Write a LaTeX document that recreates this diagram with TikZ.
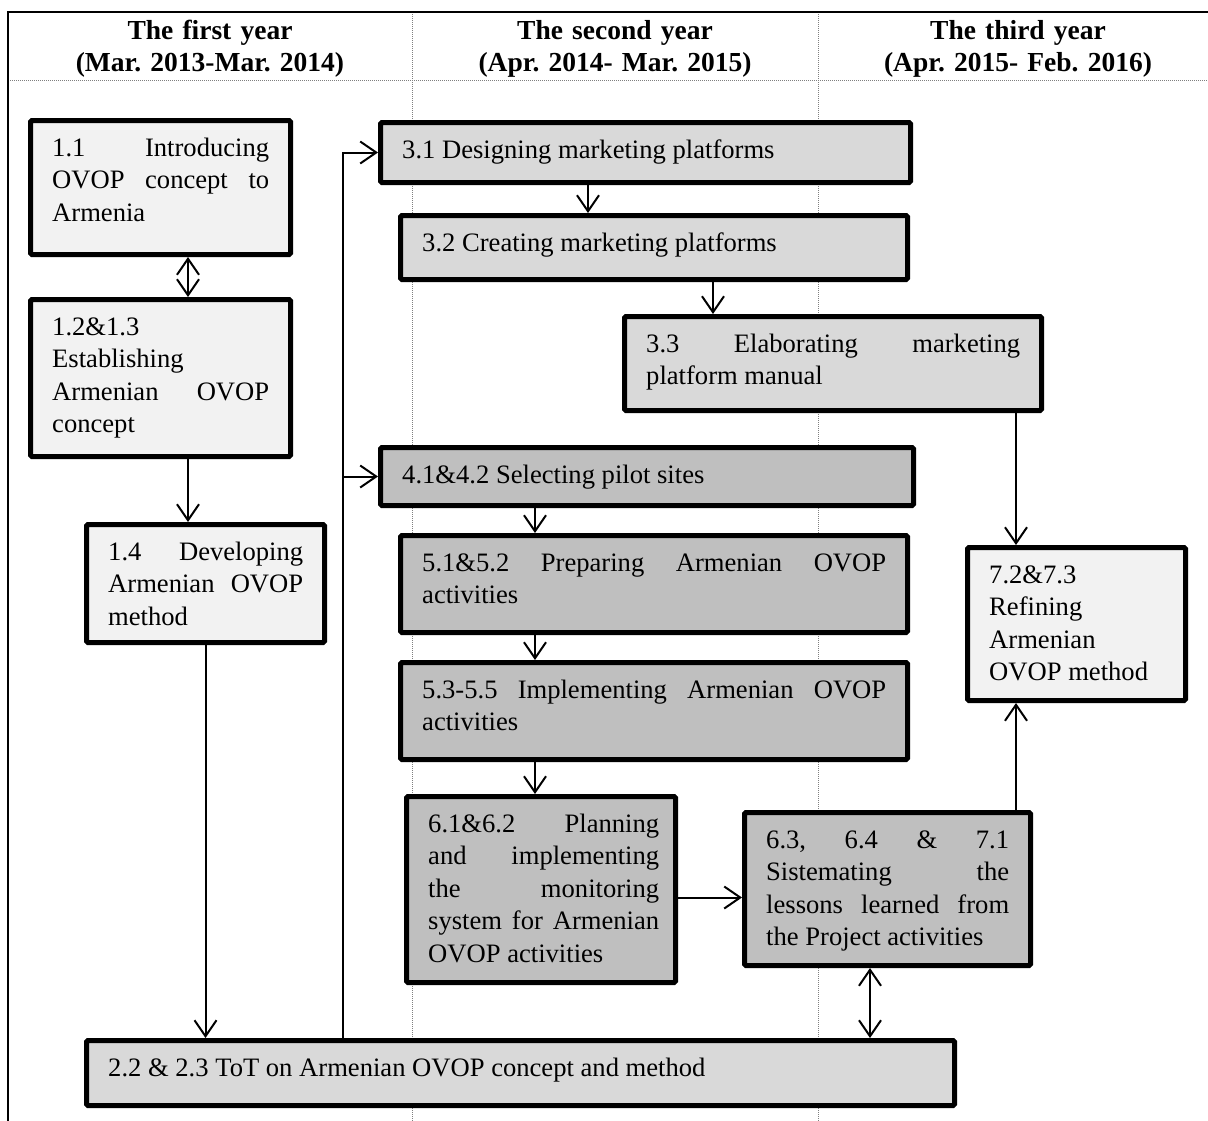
\documentclass[tikz,border=0pt]{standalone}
\usepackage{fontspec}
\setmainfont{Liberation Serif}
\usetikzlibrary{arrows.meta,calc}

\definecolor{fillLight}{HTML}{F2F2F2}
\definecolor{fillMid}{HTML}{D9D9D9}
\definecolor{fillDark}{HTML}{BFBFBF}
\definecolor{rulegray}{HTML}{7F7F7F}

% justified box text, no hyphenation
\hyphenpenalty=10000
\exhyphenpenalty=10000
\tolerance=10000
\hbadness=10000
\frenchspacing

\tikzset{
  actbox/.style={draw=black, line width=5pt, rounded corners=1.5pt, inner sep=0pt},
  boxtext/.style={inner sep=0pt, anchor=base west, align=justify,
    font=\fontsize{26.6}{32.5}\selectfont\frenchspacing},
  headtext/.style={inner sep=0pt, anchor=base, text width=400pt, align=center,
    font=\fontsize{27.5}{32}\selectfont\bfseries\frenchspacing},
  flow/.style={line width=2pt, -{Straight Barb[length=16pt,width=22pt]}},
  bothflow/.style={line width=2pt, {Straight Barb[length=16pt,width=22pt]}-{Straight Barb[length=16pt,width=22pt]}},
  divider/.style={draw=rulegray, line width=1pt, dash pattern=on 1pt off 1pt},
  frame/.style={draw=black, line width=2.5pt},
}

\begin{document}
\begin{tikzpicture}[x=1pt, y=-1pt]
\useasboundingbox (0,0) rectangle (1208,1120);

% period columns
\draw[divider] (412,12) -- (412,1125);
\draw[divider] (818,12) -- (818,1125);
\draw[divider] (8,80) -- (1215,80);
\draw[frame] (8,1125) -- (8,12) -- (1215,12);

\node[headtext] (h1) at (210,39) {The first year\\(Mar. 2013-Mar. 2014)};
\node[headtext] (h2) at (615,39) {The second year\\(Apr. 2014- Mar. 2015)};
\node[headtext] (h3) at (1018,39) {The third year\\(Apr. 2015- Feb. 2016)};

% activity boxes
\node[actbox, fill=fillLight, minimum width=260, minimum height=134] (b11) at (160.5,187.5) {};
\node[actbox, fill=fillLight, minimum width=260, minimum height=157] (b12) at (160.5,378) {};
\node[actbox, fill=fillLight, minimum width=238, minimum height=118] (b14) at (205.5,583.5) {};
\node[actbox, fill=fillMid, minimum width=530, minimum height=60] (b31) at (645.5,152.5) {};
\node[actbox, fill=fillMid, minimum width=507, minimum height=64] (b32) at (654,247.5) {};
\node[actbox, fill=fillMid, minimum width=417, minimum height=94] (b33) at (833,363.5) {};
\node[actbox, fill=fillDark, minimum width=533, minimum height=58] (b41) at (647,476.5) {};
\node[actbox, fill=fillDark, minimum width=507, minimum height=97] (b51) at (654,584) {};
\node[actbox, fill=fillDark, minimum width=507, minimum height=97] (b53) at (654,711) {};
\node[actbox, fill=fillDark, minimum width=269, minimum height=186] (b61) at (541,889.5) {};
\node[actbox, fill=fillDark, minimum width=286, minimum height=153] (b63) at (887.5,889) {};
\node[actbox, fill=fillLight, minimum width=218, minimum height=153] (b72) at (1076.5,624) {};
\node[actbox, fill=fillMid, minimum width=868, minimum height=65] (b22) at (520.5,1073) {};

% box texts
\node[boxtext, text width=217] (t11) at ([xshift=24pt,yshift=-38pt]b11.north west)
  {1.1 Introducing\linebreak OVOP concept to\linebreak Armenia};
\node[boxtext, text width=217] (t12) at ([xshift=24pt,yshift=-38pt]b12.north west)
  {1.2\&1.3\linebreak Establishing\linebreak Armenian OVOP\linebreak concept};
\node[boxtext, text width=195] (t14) at ([xshift=24pt,yshift=-38pt]b14.north west)
  {1.4 Developing\linebreak Armenian OVOP\linebreak method};
\node[boxtext, text width=487] (t31) at ([xshift=24pt,yshift=-38pt]b31.north west)
  {3.1 Designing marketing platforms};
\node[boxtext, text width=464] (t32) at ([xshift=24pt,yshift=-38pt]b32.north west)
  {3.2 Creating marketing platforms};
\node[boxtext, text width=374] (t33) at ([xshift=24pt,yshift=-38pt]b33.north west)
  {3.3 Elaborating marketing\linebreak platform manual};
\node[boxtext, text width=490] (t41) at ([xshift=24pt,yshift=-38pt]b41.north west)
  {4.1\&4.2 Selecting pilot sites};
\node[boxtext, text width=464] (t51) at ([xshift=24pt,yshift=-38pt]b51.north west)
  {5.1\&5.2 Preparing Armenian OVOP\linebreak activities};
\node[boxtext, text width=464] (t53) at ([xshift=24pt,yshift=-38pt]b53.north west)
  {5.3-5.5 Implementing Armenian OVOP\linebreak activities};
\node[boxtext, text width=231] (t61) at ([xshift=24pt,yshift=-38pt]b61.north west)
  {6.1\&6.2 Planning\linebreak and implementing\linebreak the monitoring\linebreak system for Armenian\linebreak OVOP activities};
\node[boxtext, text width=243] (t63) at ([xshift=24pt,yshift=-38pt]b63.north west)
  {6.3, 6.4 \& 7.1\linebreak Sistemating the\linebreak lessons learned from\linebreak the Project activities};
\node[boxtext, text width=175] (t72) at ([xshift=24pt,yshift=-38pt]b72.north west)
  {7.2\&7.3\linebreak Refining\linebreak Armenian\linebreak OVOP method};
\node[boxtext, text width=825] (t22) at ([xshift=24pt,yshift=-38pt]b22.north west)
  {2.2 \& 2.3 ToT on Armenian OVOP concept and method};

% connector columns
\coordinate (colA) at (188,0);
\coordinate (colFeed) at (343,0);
\coordinate (colB) at (535,0);
\coordinate (colC) at (588,0);
\coordinate (colD) at (713,0);
\coordinate (colE) at (870,0);
\coordinate (colF) at (1016,0);

% connectors
\draw[bothflow] (b11.south -| colA) -- (b12.north -| colA);
\draw[flow] (b12.south -| colA) -- (b14.north -| colA);
\draw[flow] (b14.south) -- (b22.north -| b14.south);
\draw[flow] (b22.north -| colFeed) |- (b31.west);
\draw[flow] (b41.west -| colFeed) -- (b41.west);
\draw[flow] (b31.south -| colC) -- (b32.north -| colC);
\draw[flow] (b32.south -| colD) -- (b33.north -| colD);
\draw[flow] (b33.south -| colF) -- (b72.north -| colF);
\draw[flow] (b41.south -| colB) -- (b51.north -| colB);
\draw[flow] (b51.south -| colB) -- (b53.north -| colB);
\draw[flow] (b53.south -| colB) -- (b61.north -| colB);
\draw[flow] ([yshift=-8pt]b61.east) -- ([yshift=-8pt]b61.east -| b63.west);
\draw[flow] (b63.north -| colF) -- (b72.south -| colF);
\draw[bothflow] (b63.south -| colE) -- (b22.north -| colE);
\end{tikzpicture}
\end{document}
